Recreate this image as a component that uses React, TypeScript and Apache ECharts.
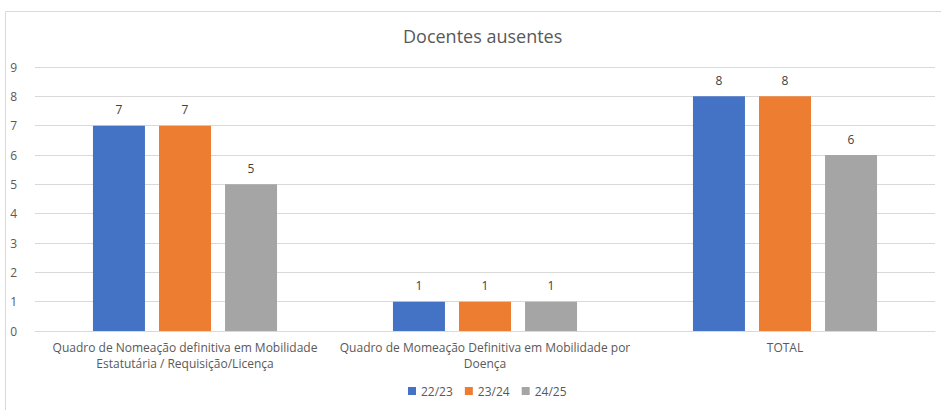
import React, { useEffect, useRef } from "react";
import * as echarts from "echarts";

const categories = [
  "Quadro de Nomeação definitiva em Mobilidade\nEstatutária / Requisição/Licença",
  "Quadro de Momeação Definitiva em Mobilidade por\nDoença",
  "TOTAL",
];
const seriesNames = ["22/23", "23/24", "24/25"];
const values2223 = [7, 1, 8];
const values2324 = [7, 1, 8];
const values2425 = [5, 1, 6];
const colors = ["#4472C4", "#ED7D31", "#A5A5A5"];
const yTicks = { min: 0, max: 9, interval: 1 };

export default function App() {
  const ref = useRef<HTMLDivElement>(null);
  useEffect(() => {
    if (!ref.current) return;
    const chart = echarts.init(ref.current, null, { renderer: "svg" });
    const font = "'Open Sans', 'Noto Sans', sans-serif";
    const allValues = [values2223, values2324, values2425];
    chart.setOption({
      animation: false,
      backgroundColor: "#ffffff",
      textStyle: { fontFamily: font },
      title: {
        text: "Docentes ausentes",
        left: 398,
        top: 22,
        textStyle: { fontSize: 18, fontWeight: "normal", color: "#595959", fontFamily: font },
      },
      graphic: [
        {
          type: "rect",
          shape: { x: 5.5, y: 11.5, width: 960, height: 420 },
          style: { fill: "none", stroke: "#d9d9d9", lineWidth: 1 },
          silent: true,
        },
      ],
      legend: {
        bottom: 8,
        left: 403,
        icon: "rect",
        itemWidth: 8,
        itemHeight: 8,
        itemGap: 12,
        textStyle: { fontSize: 12, color: "#595959", fontFamily: font },
        data: seriesNames,
      },
      grid: { left: 35, right: 6, top: 67, bottom: 79, containLabel: false },
      xAxis: {
        type: "category",
        data: categories,
        axisLine: { lineStyle: { color: "#d9d9d9" } },
        axisTick: { show: false },
        axisLabel: { color: "#595959", fontSize: 12, lineHeight: 16, margin: 8, fontFamily: font, interval: 0 },
      },
      yAxis: {
        type: "value",
        min: yTicks.min,
        max: yTicks.max,
        interval: yTicks.interval,
        axisLine: { show: false },
        axisTick: { show: false },
        axisLabel: { color: "#595959", fontSize: 12, margin: 18, fontFamily: font },
        splitLine: { lineStyle: { color: "#d9d9d9" } },
      },
      series: seriesNames.map((name, i) => ({
        name,
        type: "bar",
        data: allValues[i],
        barWidth: 52,
        barGap: "27%",
        itemStyle: { color: colors[i] },
        label: {
          show: true,
          position: "top",
          distance: 10,
          color: "#404040",
          fontSize: 12,
          fontFamily: font,
        },
      })),
    });
    return () => chart.dispose();
  }, []);
  return (
    <div
      ref={ref}
      style={{ position: "absolute", left: 0, top: 0, width: 941, height: 410 }}
    />
  );
}
